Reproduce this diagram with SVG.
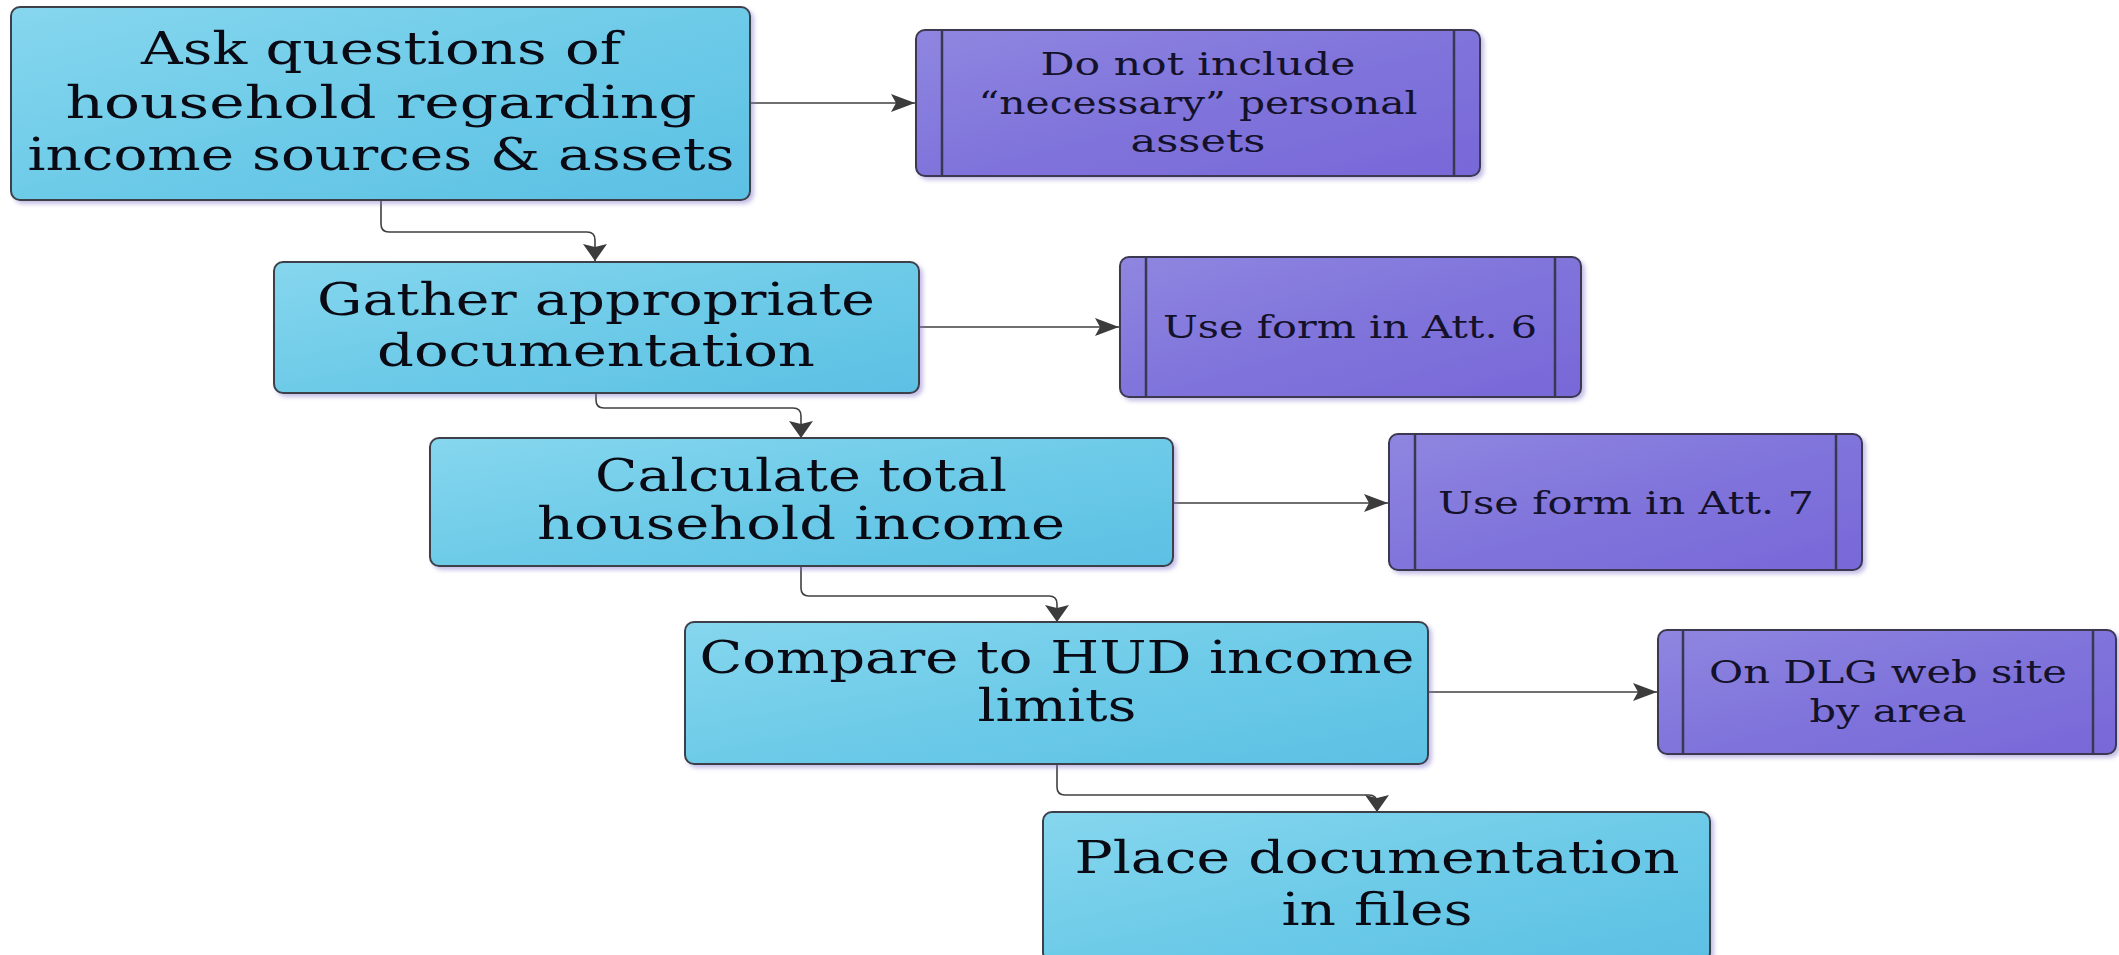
<svg xmlns="http://www.w3.org/2000/svg" width="2119" height="955" viewBox="0 0 2119 955">
<defs>
<linearGradient id="gBlue" x1="0" y1="0" x2="1" y2="1">
<stop offset="0" stop-color="#86d6ee"/>
<stop offset="0.5" stop-color="#6dcbe8"/>
<stop offset="1" stop-color="#5cc0e4"/>
</linearGradient>
<linearGradient id="gPurple" x1="0" y1="0" x2="1" y2="1">
<stop offset="0" stop-color="#8f86e0"/>
<stop offset="0.5" stop-color="#8074db"/>
<stop offset="1" stop-color="#7868d8"/>
</linearGradient>
<filter id="sh" x="-5%" y="-5%" width="110%" height="115%">
<feDropShadow dx="3" dy="3" stdDeviation="2" flood-color="#7a70c8" flood-opacity="0.45"/>
</filter>
<marker id="ahH" markerWidth="24" markerHeight="18" refX="24" refY="9" orient="0" markerUnits="userSpaceOnUse" viewBox="0 0 24 18">
<path d="M0,0 L24,9 L0,18 L5,9 z" fill="#3c3c3c"/>
</marker>
<marker id="ahV" markerWidth="24" markerHeight="17" refX="12" refY="17" orient="0" markerUnits="userSpaceOnUse" viewBox="0 0 24 17">
<path d="M0,0 L12,3 L24,0 L12,17 z" fill="#3c3c3c"/>
</marker>
</defs>
<style>
.blue{fill:url(#gBlue);stroke:#3c4048;stroke-width:2;filter:url(#sh)}
.purple{fill:url(#gPurple);stroke:#3a3850;stroke-width:2;filter:url(#sh)}
.bar{stroke:#3a3850;stroke-width:2.5}
.t1{font-family:"DejaVu Serif","Liberation Serif",serif;font-size:44px;fill:#0a0a14;text-anchor:middle}
.t2{font-family:"DejaVu Serif","Liberation Serif",serif;font-size:31px;fill:#14122a;text-anchor:middle}
.c{fill:none;stroke:#404040;stroke-width:1.6}
.h{marker-end:url(#ahH)}
.v{marker-end:url(#ahV)}
</style>
<rect width="2119" height="955" fill="#ffffff"/>

<g id="connectors">
<path class="c h" d="M750,103 L915,103"/>
<path class="c v" d="M381,200 L381,224 Q381,232 389,232 L587,232 Q595,232 595,240 L595,261"/>
<path class="c h" d="M919,327 L1119,327"/>
<path class="c v" d="M596,393 L596,400 Q596,408 604,408 L793,408 Q801,408 801,416 L801,438"/>
<path class="c h" d="M1173,503 L1388,503"/>
<path class="c v" d="M801,566 L801,588 Q801,596 809,596 L1049,596 Q1057,596 1057,604 L1057,622"/>
<path class="c h" d="M1428,692 L1657,692"/>
<path class="c v" d="M1057,764 L1057,787 Q1057,795 1065,795 L1369,795 Q1377,795 1377,803 L1377,812"/>
</g>

<g id="n1">
<rect class="blue" x="11" y="7" width="739" height="193" rx="9"/>
<text class="t1" x="381" y="64" textLength="480" lengthAdjust="spacingAndGlyphs">Ask questions of</text>
<text class="t1" x="381" y="118" textLength="631" lengthAdjust="spacingAndGlyphs">household regarding</text>
<text class="t1" x="381" y="170" textLength="707" lengthAdjust="spacingAndGlyphs">income sources &amp; assets</text>
</g>

<g id="p1">
<rect class="purple" x="916" y="30" width="564" height="146" rx="9"/>
<line class="bar" x1="942" y1="30" x2="942" y2="176"/>
<line class="bar" x1="1454" y1="30" x2="1454" y2="176"/>
<text class="t2" x="1198" y="75" textLength="315" lengthAdjust="spacingAndGlyphs">Do not include</text>
<text class="t2" x="1198" y="114" textLength="439" lengthAdjust="spacingAndGlyphs">“necessary” personal</text>
<text class="t2" x="1198" y="152" textLength="135" lengthAdjust="spacingAndGlyphs">assets</text>
</g>

<g id="n2">
<rect class="blue" x="274" y="262" width="645" height="131" rx="9"/>
<text class="t1" x="596" y="315" textLength="558" lengthAdjust="spacingAndGlyphs">Gather appropriate</text>
<text class="t1" x="596" y="366" textLength="438" lengthAdjust="spacingAndGlyphs">documentation</text>
</g>

<g id="p2">
<rect class="purple" x="1120" y="257" width="461" height="140" rx="9"/>
<line class="bar" x1="1146" y1="257" x2="1146" y2="397"/>
<line class="bar" x1="1555" y1="257" x2="1555" y2="397"/>
<text class="t2" x="1350" y="338" textLength="374" lengthAdjust="spacingAndGlyphs">Use form in Att. 6</text>
</g>

<g id="n3">
<rect class="blue" x="430" y="438" width="743" height="128" rx="9"/>
<text class="t1" x="801" y="491" textLength="412" lengthAdjust="spacingAndGlyphs">Calculate total</text>
<text class="t1" x="801" y="539" textLength="528" lengthAdjust="spacingAndGlyphs">household income</text>
</g>

<g id="p3">
<rect class="purple" x="1389" y="434" width="473" height="136" rx="9"/>
<line class="bar" x1="1415" y1="434" x2="1415" y2="570"/>
<line class="bar" x1="1836" y1="434" x2="1836" y2="570"/>
<text class="t2" x="1626" y="514" textLength="376" lengthAdjust="spacingAndGlyphs">Use form in Att. 7</text>
</g>

<g id="n4">
<rect class="blue" x="685" y="622" width="743" height="142" rx="9"/>
<text class="t1" x="1057" y="673" textLength="715" lengthAdjust="spacingAndGlyphs">Compare to HUD income</text>
<text class="t1" x="1057" y="721" textLength="159" lengthAdjust="spacingAndGlyphs">limits</text>
</g>

<g id="p4">
<rect class="purple" x="1658" y="630" width="458" height="124" rx="9"/>
<line class="bar" x1="1683" y1="630" x2="1683" y2="754"/>
<line class="bar" x1="2093" y1="630" x2="2093" y2="754"/>
<text class="t2" x="1888" y="683" textLength="358" lengthAdjust="spacingAndGlyphs">On DLG web site</text>
<text class="t2" x="1888" y="722" textLength="157" lengthAdjust="spacingAndGlyphs">by area</text>
</g>

<g id="n5">
<rect class="blue" x="1043" y="812" width="667" height="150" rx="9"/>
<text class="t1" x="1377" y="873" textLength="605" lengthAdjust="spacingAndGlyphs">Place documentation</text>
<text class="t1" x="1377" y="925" textLength="191" lengthAdjust="spacingAndGlyphs">in files</text>
</g>
</svg>
